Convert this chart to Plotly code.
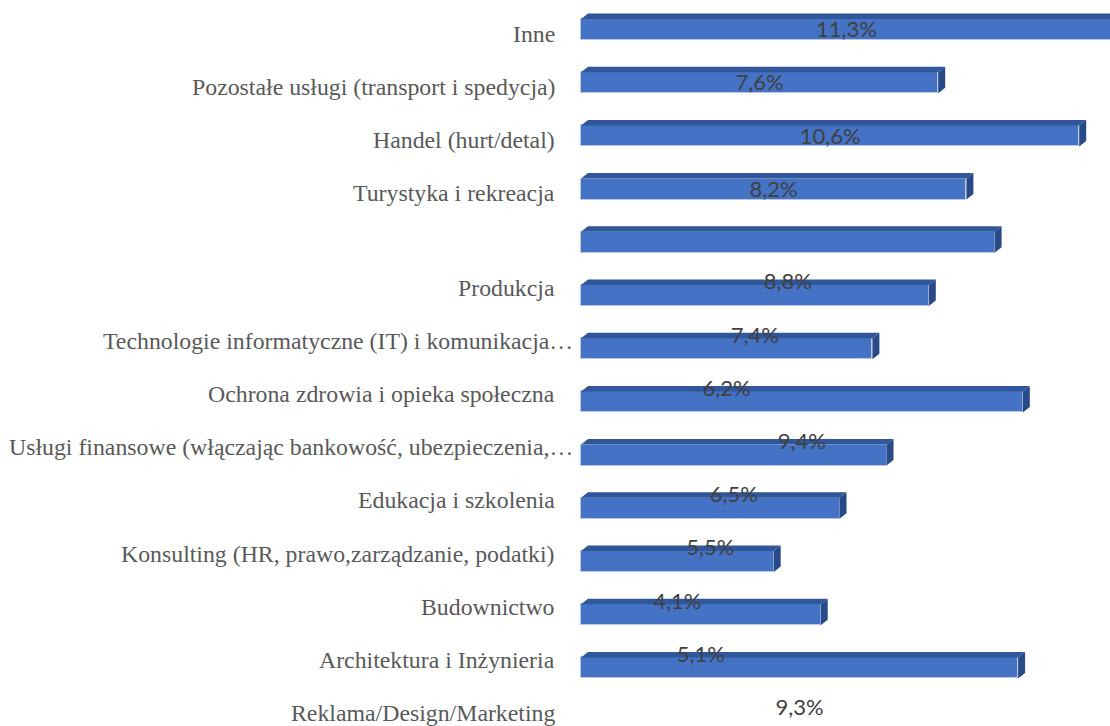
import plotly.graph_objects as go

# ---------------- data ----------------
categories = [
    "Inne",
    "Pozostałe usługi (transport i spedycja)",
    "Handel (hurt/detal)",
    "Turystyka i rekreacja",
    "",
    "Produkcja",
    "Technologie informatyczne (IT) i komunikacja…",
    "Ochrona zdrowia i opieka społeczna",
    "Usługi finansowe (włączając bankowość, ubezpieczenia,…",
    "Edukacja i szkolenia",
    "Konsulting (HR, prawo,zarządzanie, podatki)",
    "Budownictwo",
    "Architektura i Inżynieria",
    "Reklama/Design/Marketing",
]
bar_values = [11.3, 7.6, 10.6, 8.2, 8.8, 7.4, 6.2, 9.4, 6.5, 5.5, 4.1, 5.1, 9.3]

# ---------------- styling / layout constants ----------------
W, H = 1110, 726
X0_PX = 581          # pixel of value 0
PX_PER_UNIT = 47.0   # pixels per percentage point
Y0_PX = 29.5         # pixel centre of the first bar
SLOT_PX = 53.2       # pixels between bars
BAR_WIDTH = 0.395    # in slot units
DEPTH_X = 7 / PX_PER_UNIT
DEPTH_Y = 5.5 / SLOT_PX
N_ALIGNED = 4        # rows whose labels still sit on their own bar
UPPER_LABEL_OFF = 0.04
LOWER_LABEL_OFF = 0.78
UPPER_CAT_OFF = 0.08
LOWER_CAT_OFF = -0.15

FRONT = "#4472C4"
TOP = "#30579a"
SIDE = "#284a88"

x_range = [-X0_PX / PX_PER_UNIT, (W - X0_PX) / PX_PER_UNIT]
y_range = [(H - Y0_PX) / SLOT_PX, -Y0_PX / SLOT_PX]  # reversed

bar_pos = list(range(len(bar_values)))

fig = go.Figure()

# front faces
fig.add_trace(go.Bar(
    x=bar_values, y=bar_pos, orientation="h", width=BAR_WIDTH,
    marker=dict(color=FRONT, line=dict(color="#b8c8e6", width=1)),
    hoverinfo="skip", showlegend=False,
))

# 3D top and side faces (computed from data)
top_x, top_y, side_x, side_y = [], [], [], []
for v, p in zip(bar_values, bar_pos):
    t = p - BAR_WIDTH / 2
    b = p + BAR_WIDTH / 2
    top_x += [0, v, v + DEPTH_X, DEPTH_X, 0, None]
    top_y += [t, t, t - DEPTH_Y, t - DEPTH_Y, t, None]
    side_x += [v, v + DEPTH_X, v + DEPTH_X, v, v, None]
    side_y += [t, t - DEPTH_Y, b - DEPTH_Y, b, t, None]

fig.add_trace(go.Scatter(x=top_x, y=top_y, mode="lines", fill="toself",
                         fillcolor=TOP, line=dict(width=0, color=TOP),
                         hoverinfo="skip", showlegend=False))
fig.add_trace(go.Scatter(x=side_x, y=side_y, mode="lines", fill="toself",
                         fillcolor=SIDE, line=dict(width=0, color=SIDE),
                         hoverinfo="skip", showlegend=False))

# data labels (drift below the first N_ALIGNED rows)
lab_x, lab_y, lab_t = [], [], []
for v, p in zip(bar_values, bar_pos):
    off = UPPER_LABEL_OFF if p < N_ALIGNED else LOWER_LABEL_OFF
    lab_x.append(v / 2)
    lab_y.append(p + off)
    lab_t.append(f"{v:.1f}%".replace(".", ","))

fig.add_trace(go.Scatter(
    x=lab_x, y=lab_y, mode="text", text=lab_t, textposition="middle center",
    textfont=dict(family="Lato, Open Sans, sans-serif", size=22, color="#404040"),
    hoverinfo="skip", showlegend=False, cliponaxis=False,
))

# category labels
for j, name in enumerate(categories):
    if not name:
        continue
    off = UPPER_CAT_OFF if j < N_ALIGNED else LOWER_CAT_OFF
    shift = -6 if name.endswith("…") else -24
    fig.add_annotation(
        x=0, y=j + off, xref="x", yref="y", text=name, showarrow=False,
        xanchor="right", yanchor="middle", xshift=shift,
        font=dict(family="Liberation Serif, Times New Roman, serif", size=23.8, color="#595959"),
    )

fig.update_layout(
    width=W, height=H,
    margin=dict(l=0, r=0, t=0, b=0),
    paper_bgcolor="white", plot_bgcolor="white",
    xaxis=dict(range=x_range, visible=False, fixedrange=True),
    yaxis=dict(range=y_range, visible=False, fixedrange=True),
    bargap=0,
)

fig.write_html(
    "out.html",
    config={"displayModeBar": False},
    post_script="document.body.style.margin='0';document.body.style.overflow='hidden';",
)
